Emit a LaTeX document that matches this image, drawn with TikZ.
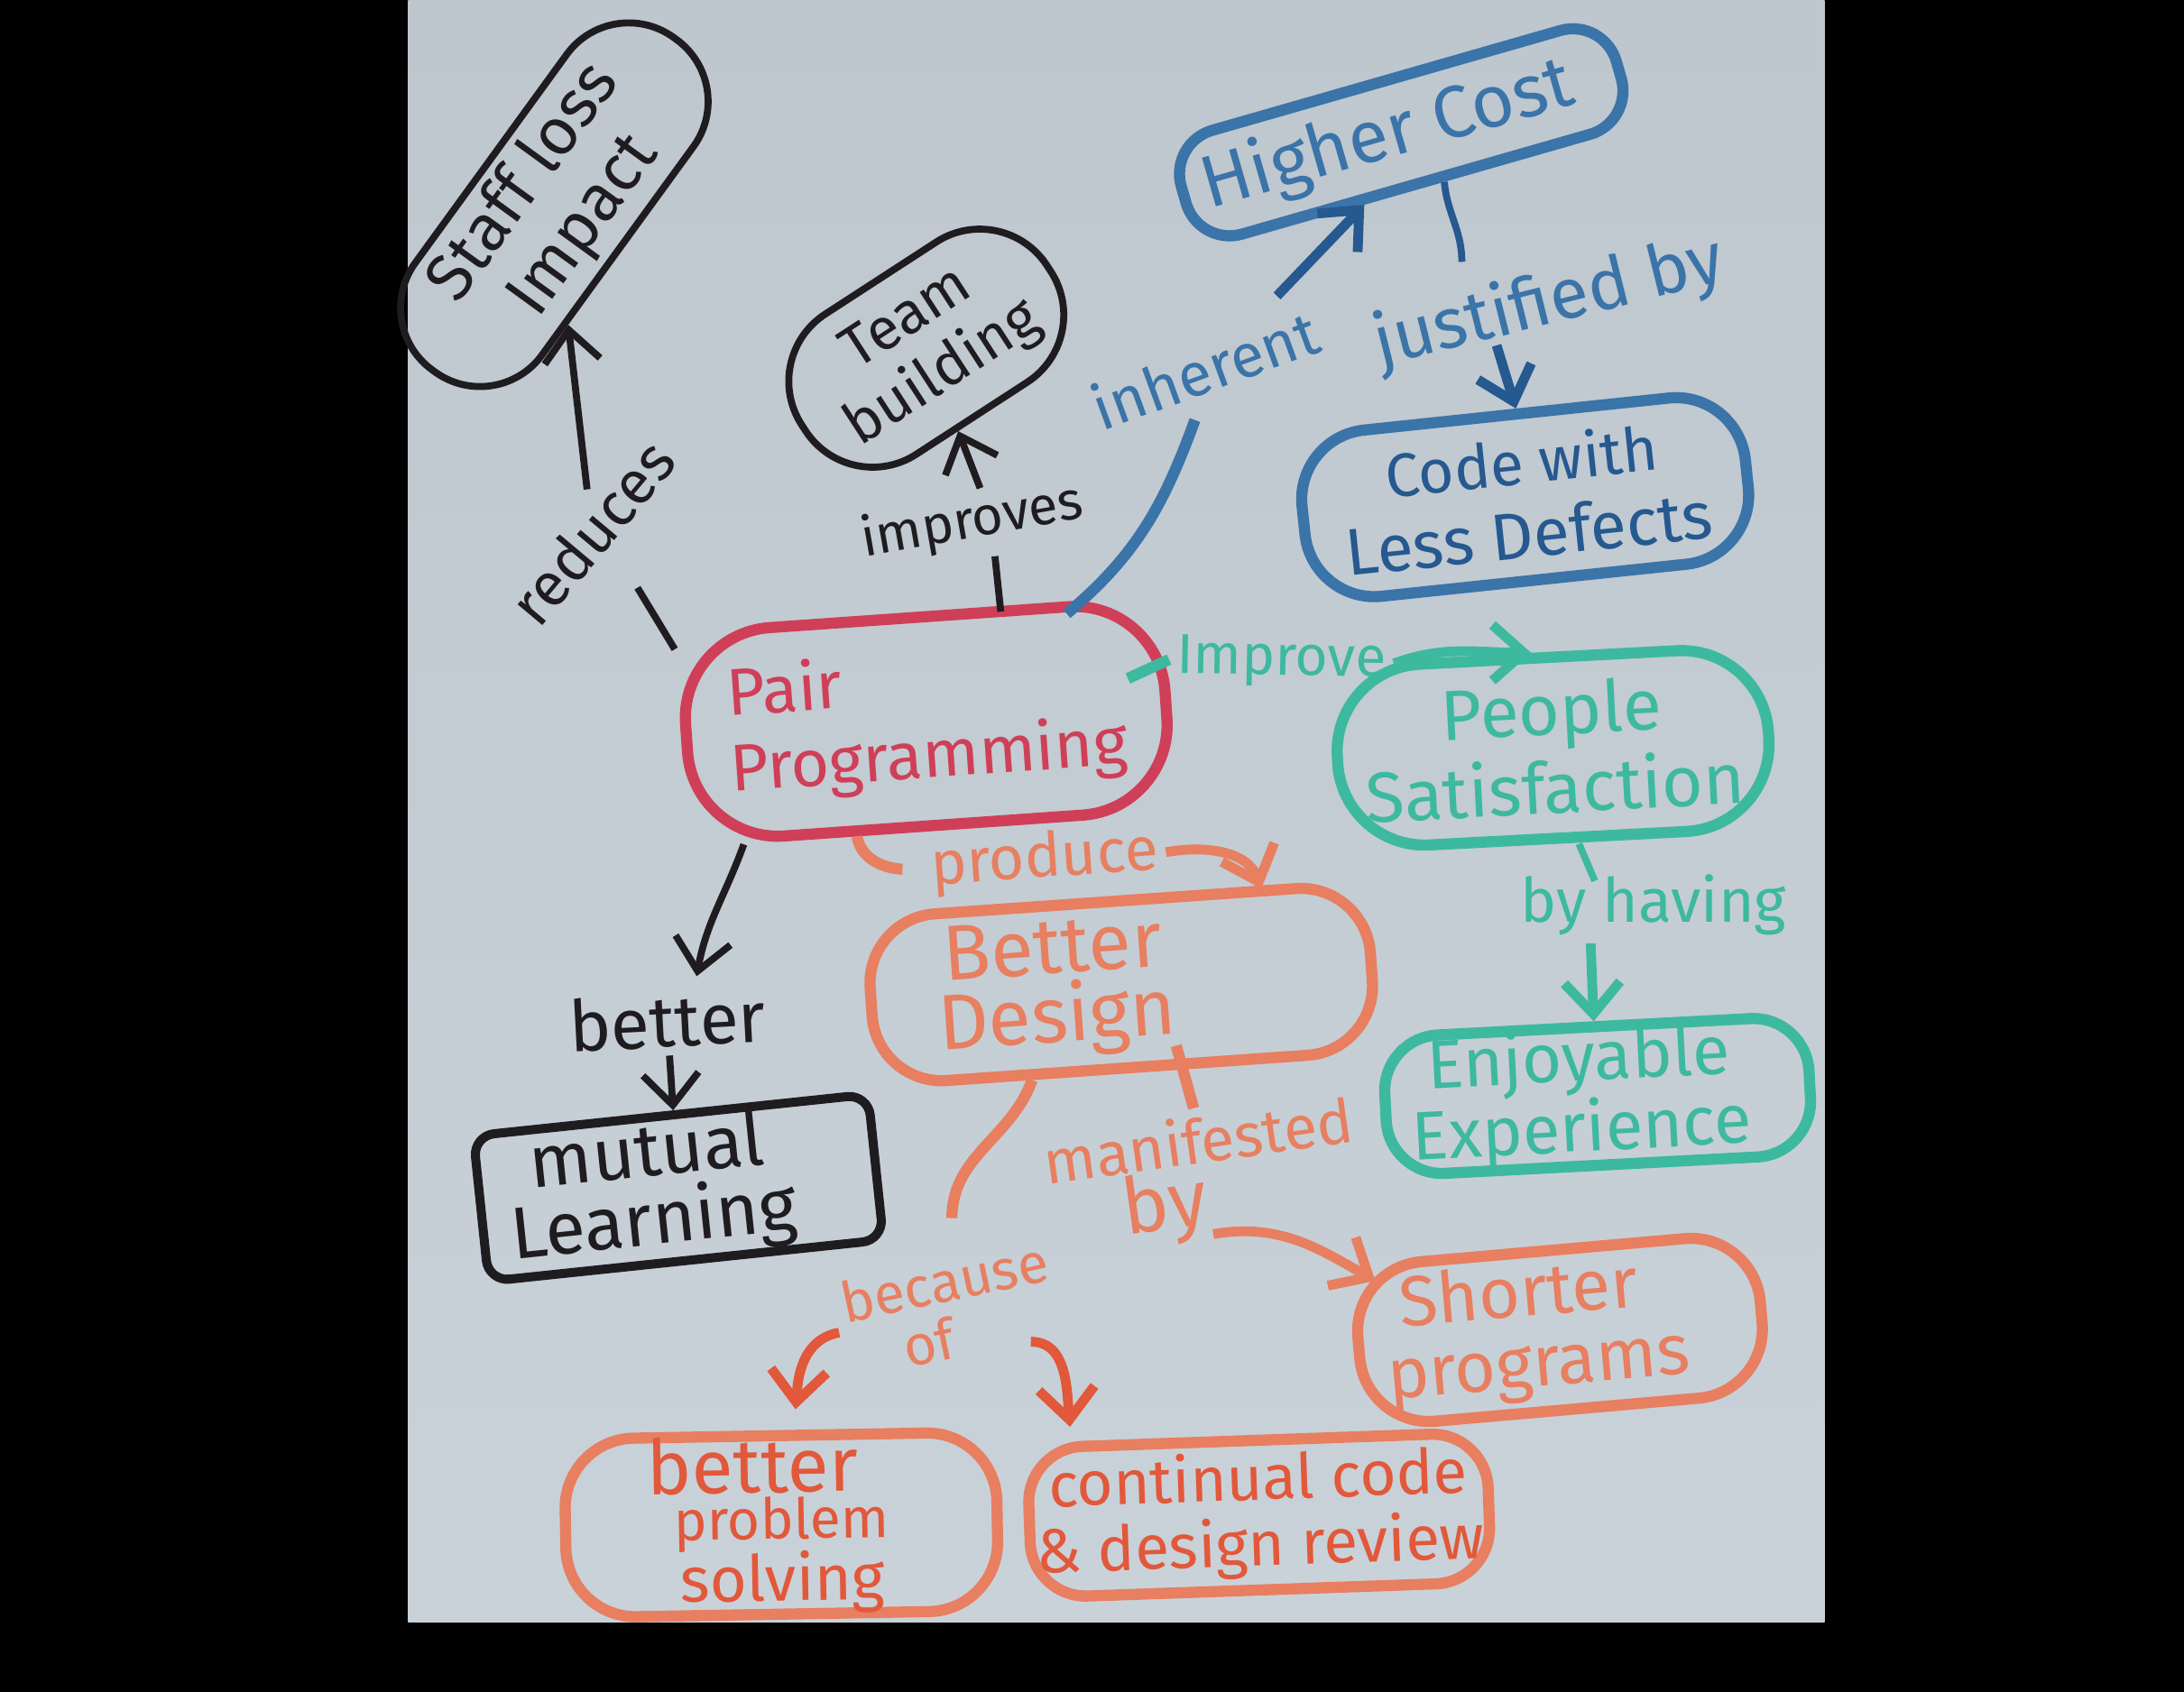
\documentclass[tikz,border=0pt]{standalone}
\usepackage{fontspec}
\setmainfont{Fira Sans}
\usepackage{tikz}
\usetikzlibrary{positioning,arrows.meta}

\definecolor{inkBlack}{HTML}{1F1C20}
\definecolor{inkRed}{HTML}{CF3F58}
\definecolor{inkBlue}{HTML}{3A74A8}
\definecolor{inkDeep}{HTML}{25598F}
\definecolor{inkGreen}{HTML}{3DB9A0}
\definecolor{inkOrange}{HTML}{E77F60}
\definecolor{inkRust}{HTML}{E2583A}
\definecolor{boardTop}{HTML}{BEC6CE}
\definecolor{boardLow}{HTML}{CAD2D9}

\newcommand{\fs}[2]{\fontsize{#1}{#2}\selectfont}

\begin{document}
\begin{tikzpicture}[x=0.2mm,y=-0.2mm]
	\tikzstyle{topic} = [rectangle, rounded corners=1cm, align=center, line width=1.6mm, inner sep=0pt, font=\fs{27}{30}]
	\tikzstyle{link} = [align=center, inner sep=3pt, font=\fs{25}{25}]
	\tikzstyle{uses} = [line width=1mm,-{Straight Barb[length=4.5mm,width=8mm]}]
	\tikzstyle{plain} = [line width=1mm]
	\tikzstyle{wide} = [line width=1.6mm]

	\useasboundingbox (0,0) rectangle (1568,1215);
	\fill[black] (0,0) rectangle (1568,1215);
	\shade[top color=boardTop, bottom color=boardLow] (293,0) rectangle (1310,1165);

	% black
	\node (staffLoss) [topic, draw=inkBlack, text=inkBlack, line width=1mm, rotate=54, minimum width=5.9cm, minimum height=2.25cm, rounded corners=1.1cm, font=\fs{27}{30}] at (398,147) {Staff loss\\Impact};
	\node (teamBuilding) [topic, draw=inkBlack, text=inkBlack, line width=1mm, rotate=33, minimum width=4.2cm, minimum height=2.4cm, rounded corners=1.15cm, font=\fs{24}{27}] at (665,250) {Team\\building};
	\node (mutualLearning) [topic, draw=inkBlack, text=inkBlack, line width=1.3mm, rounded corners=3mm, rotate=6, minimum width=5.7cm, minimum height=2.1cm, font=\fs{30}{28}] at (487,853) {mutual\hspace*{0.8cm}\\Learning\hspace*{0.8cm}};
	\node (reduces) [link, text=inkBlack, rotate=50] at (425,382) {reduces};
	\node (improves) [link, text=inkBlack, rotate=10, font=\fs{22}{22}] at (698,375) {improves};
	\node (betterLink) [link, text=inkBlack, font=\fs{29}{29}, rotate=3] at (479,733) {better};

	% blue
	\node (higherCost) [topic, draw=inkBlue, text=inkBlue, rotate=16, minimum width=6.5cm, minimum height=1.55cm, rounded corners=0.65cm, font=\fs{30}{30}] at (1006,95) {Higher Cost\hspace*{0.4cm}};
	\node (lessDefects) [topic, draw=inkBlue, text=inkDeep, rotate=6, minimum width=6.4cm, minimum height=2.4cm] at (1095,357) {{\fs{25}{30}Code with}\\Less Defects};
	\node (inherent) [link, text=inkBlue, rotate=20] at (865,265) {inherent};
	\node (justifiedBy) [link, text=inkBlue, rotate=14, font=\fs{29}{29}] at (1112,218) {justified by};

	% red
	\node (pairProgramming) [topic, draw=inkRed, text=inkRed, rotate=4, minimum width=6.9cm, minimum height=3cm, rounded corners=1.3cm, font=\fs{27}{31}] at (665,518) {Pair\hspace*{4cm}\\Programming};

	% green
	\node (peopleSatisfaction) [topic, draw=inkGreen, text=inkGreen, rotate=3, minimum width=6.2cm, minimum height=2.6cm, rounded corners=1.25cm, font=\fs{29}{32}] at (1115,537) {People\\Satisfaction};
	\node (enjoyableExperience) [topic, draw=inkGreen, text=inkGreen, rotate=3, minimum width=6.1cm, minimum height=1.9cm, rounded corners=0.8cm, font=\fs{28}{26}] at (1147,787) {Enjoyable\hspace*{0.5cm}\\Experience\hspace*{0.5cm}};
	\node (improve) [link, text=inkGreen, rotate=-1, font=\fs{23}{23}] at (920,475) {Improve};
	\node (byHaving) [link, text=inkGreen] at (1187,650) {by having};

	% orange
	\node (betterDesign) [topic, draw=inkOrange, text=inkOrange, rotate=4, minimum width=7.2cm, minimum height=2.4cm, font=\fs{32}{28}] at (805,707) {Better\hspace*{1.9cm}\\Design\hspace*{1.9cm}};
	\node (shorterPrograms) [topic, draw=inkOrange, text=inkOrange, rotate=5, minimum width=5.8cm, minimum height=2.3cm, font=\fs{29}{29}] at (1120,955) {Shorter\hspace*{1.1cm}\\programs\hspace*{0.7cm}};
	\node (problemSolving) [topic, draw=inkOrange, text=inkRust, rotate=1, minimum width=6.2cm, minimum height=2.4cm, font=\fs{23}{20}] at (561,1095) {{\fs{31}{26}better}\hspace*{0.8cm}\\[-1pt]{\fs{23}{20}problem}\hspace*{2cm}\\[-1pt]{\fs{26}{20}solving}};
	\node (designReview) [topic, draw=inkOrange, text=inkRust, rotate=2, minimum width=6.6cm, minimum height=2.15cm, rounded corners=0.8cm, font=\fs{25.5}{27}] at (904,1088) {continual code\\\& design review};
	\node (produce) [link, text=inkOrange, rotate=4] at (750,618) {produce};
	\node (manifestedBy) [link, text=inkOrange, rotate=8] at (864,846) {manifested\\{\fs{32}{30}by}\hspace*{1.2cm}};
	\node (becauseOf) [link, text=inkOrange, rotate=12, font=\fs{23}{23}] at (682,940) {because\\of\hspace*{0.8cm}};

	% links
	\draw [plain, inkBlack, shorten >=6mm] (pairProgramming.160) -- (reduces.south);
	\draw [uses, inkBlack] (reduces) -- (staffLoss);
	\draw [plain, inkBlack] ([xshift=11.8mm]pairProgramming.north) -- ([xshift=2.4mm]improves.south);
	\draw [uses, inkBlack] ([xshift=2mm]improves.north) -- (teamBuilding);
	\draw [uses, inkBlack] (pairProgramming.-150) to[out=-110,in=80] ([xshift=4.5mm,yshift=1.4mm]betterLink.north);
	\draw [uses, inkBlack] (betterLink) -- (mutualLearning);

	\draw [wide, inkBlue] ([xshift=-3mm,yshift=-2mm]pairProgramming.33) to[out=40,in=-110] ([xshift=-3mm,yshift=-3mm]inherent.south);
	\draw [uses, inkDeep, line width=1.4mm] ([xshift=-5mm]inherent.north east) -- (higherCost.-133);
	\draw [plain, inkDeep] (higherCost.-65) to[out=-85,in=90] ([xshift=-11mm]justifiedBy.north);
	\draw [uses, inkDeep, line width=1.4mm] ([xshift=-9mm]justifiedBy.south) -- (lessDefects.north);

	\draw [wide, inkGreen] ([xshift=-6mm]pairProgramming.6) -- (improve.west);
	\draw [uses, inkGreen, line width=1.4mm] (improve.east) to[out=20,in=180] (peopleSatisfaction.100);
	\draw [plain, inkGreen] ([xshift=3mm]peopleSatisfaction.south) -- ([xshift=-8.4mm,yshift=-2mm]byHaving.north);
	\draw [uses, inkGreen, line width=1.4mm] ([xshift=-9mm]byHaving.south) -- (enjoyableExperience.north);

	\draw [wide, inkOrange, shorten >=3mm] (pairProgramming.-125) to[out=-80,in=180] (produce.west);
	\draw [uses, inkOrange, line width=1.4mm] (produce.east) to[out=10,in=110] ([xshift=21mm,yshift=1mm]betterDesign.north);
	\draw [wide, inkOrange] (betterDesign.-137) to[out=-110,in=90] ([xshift=2mm,yshift=5mm]becauseOf.north);
	\draw [wide, inkOrange] ([xshift=7mm,yshift=4mm]betterDesign.south) -- (manifestedBy.north);
	\draw [uses, inkOrange, line width=1.4mm] ([yshift=2mm]manifestedBy.south) to[out=10,in=150] ([xshift=4mm]shorterPrograms.162);
	\draw [uses, inkRust, line width=1.4mm, shorten >=3mm] (becauseOf.west) to[out=-170,in=85] ([xshift=2mm]problemSolving.north);
	\draw [uses, inkRust, line width=1.4mm] ([xshift=-6mm]becauseOf.south east) to[out=0,in=95] ([xshift=-2mm,yshift=2mm]designReview.155);
\end{tikzpicture}
\end{document}
